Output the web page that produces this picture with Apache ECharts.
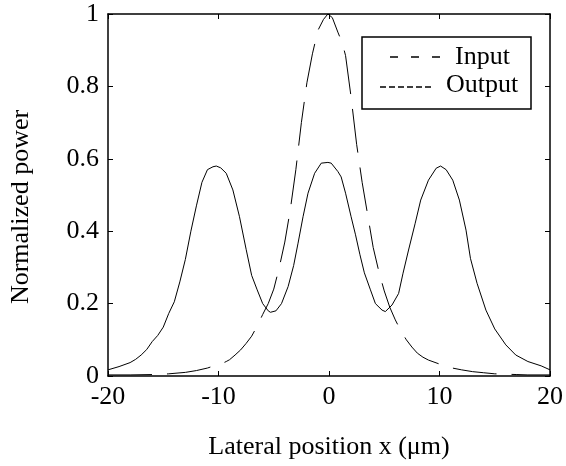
<!DOCTYPE html>
<html>
<head>
<meta charset="utf-8">
<script src="https://cdn.jsdelivr.net/npm/echarts@6/dist/echarts.min.js"></script>
<style>
  html, body { margin: 0; padding: 0; background: #fff; }
  #main { width: 566px; height: 466px; }
</style>
</head>
<body>
<div id="main"></div>
<script>
// input beam (dashed) - lateral position / normalized power
var inputX = [-20, -18, -16, -15, -14.5, -13, -12, -11, -10.6, -10, -9.3, -9, -8.5, -8, -7.5, -7, -6.5, -6, -5.5, -5, -4.5, -4, -3.5, -3, -2.5, -2, -1.5, -1, -0.5, -0.1, 0.3, 0.8, 1.2, 1.5, 2, 2.5, 3, 3.5, 4, 4.5, 5, 5.5, 6, 6.5, 7, 7.5, 8, 8.5, 9, 10, 11, 12, 13, 14, 15, 16, 17, 18, 20];
var inputY = [0.003, 0.003, 0.004, 0.005, 0.006, 0.01, 0.015, 0.022, 0.026, 0.03, 0.04, 0.045, 0.058, 0.072, 0.09, 0.11, 0.138, 0.17, 0.2, 0.24, 0.3, 0.37, 0.46, 0.57, 0.7, 0.81, 0.89, 0.955, 0.985, 1.0, 0.99, 0.95, 0.92, 0.885, 0.77, 0.64, 0.535, 0.445, 0.355, 0.29, 0.235, 0.19, 0.155, 0.125, 0.1, 0.08, 0.063, 0.052, 0.044, 0.033, 0.023, 0.017, 0.012, 0.009, 0.006, 0.005, 0.004, 0.003, 0.003];

// output (solid) - three peaks
var outputX = [-20, -19, -18, -17.5, -17, -16.5, -16, -15.5, -15, -14.5, -14, -13.5, -13, -12.5, -12, -11.5, -11, -10.5, -10.2, -9.8, -9.3, -8.7, -8.1, -7.5, -7, -6.5, -6, -5.5, -5.3, -4.8, -4.3, -3.7, -3.2, -2.8, -2.35, -1.9, -1.3, -0.7, -0.1, 0.2, 0.8, 1.1, 1.5, 2, 2.4, 2.8, 3.2, 3.75, 4.2, 4.8, 5.1, 5.7, 6.3, 6.7, 7.2, 7.8, 8.3, 9, 9.7, 10.1, 10.6, 11.2, 11.8, 12.4, 12.8, 13.4, 14.2, 15, 16, 16.9, 18, 19.2, 20];
var outputY = [0.017, 0.026, 0.037, 0.046, 0.058, 0.073, 0.095, 0.112, 0.135, 0.173, 0.205, 0.26, 0.322, 0.4, 0.47, 0.535, 0.57, 0.578, 0.58, 0.575, 0.56, 0.514, 0.44, 0.35, 0.278, 0.238, 0.2, 0.18, 0.176, 0.18, 0.2, 0.247, 0.305, 0.367, 0.44, 0.505, 0.56, 0.588, 0.59, 0.588, 0.565, 0.55, 0.505, 0.44, 0.39, 0.335, 0.285, 0.238, 0.2, 0.182, 0.178, 0.196, 0.228, 0.284, 0.348, 0.422, 0.486, 0.541, 0.574, 0.58, 0.57, 0.541, 0.486, 0.403, 0.325, 0.256, 0.182, 0.13, 0.086, 0.058, 0.04, 0.028, 0.017];

var xRange = [-20, 20, 10];
var yRange = [0, 1, 0.2];
var legendNames = ['Input', 'Output'];

function pairs(xs, ys) {
    var out = [];
    for (var i = 0; i < xs.length; i++) out.push([xs[i], ys[i]]);
    return out;
}

var font = '"Liberation Serif", "Times New Roman", serif';
var chart = echarts.init(document.getElementById('main'), null, { renderer: 'canvas' });

var boxAxis = {
    axisLine: { show: true, onZero: false, lineStyle: { color: '#000', width: 1.5 } },
    axisTick: { show: true, inside: true, length: 5, lineStyle: { color: '#000', width: 1 } },
    splitLine: { show: false }
};

var option = {
    animation: false,
    backgroundColor: '#fff',
    grid: { left: 104, right: 14, top: 14, bottom: 90, containLabel: false },
    xAxis: [
        Object.assign({
            type: 'value', min: xRange[0], max: xRange[1], interval: xRange[2],
            name: 'Lateral position x (\u03bcm)', nameLocation: 'middle', nameGap: 58,
            nameTextStyle: { fontFamily: font, fontSize: 26, color: '#000' },
            axisLabel: { fontFamily: font, fontSize: 26, color: '#000', margin: 8 }
        }, boxAxis),
        Object.assign({
            type: 'value', position: 'top', min: xRange[0], max: xRange[1], interval: xRange[2],
            axisLabel: { show: false }
        }, boxAxis)
    ],
    yAxis: [
        Object.assign({
            type: 'value', min: yRange[0], max: yRange[1], interval: yRange[2],
            name: 'Normalized power', nameLocation: 'middle', nameGap: 74,
            nameTextStyle: { fontFamily: font, fontSize: 26, color: '#000', padding: [0, 24, 0, 0] },
            axisLabel: { fontFamily: font, fontSize: 26, color: '#000', margin: 9 }
        }, boxAxis),
        Object.assign({
            type: 'value', position: 'right', min: yRange[0], max: yRange[1], interval: yRange[2],
            axisLabel: { show: false }
        }, boxAxis)
    ],
    series: [
        {
            name: legendNames[0], type: 'line', showSymbol: false, silent: true,
            data: pairs(inputX, inputY),
            lineStyle: { color: '#000', width: 1, type: [44, 15] }
        },
        {
            name: legendNames[1], type: 'line', showSymbol: false, silent: true,
            data: pairs(outputX, outputY),
            lineStyle: { color: '#000', width: 1 }
        }
    ],
    // matlab style legend box
    graphic: [
        { type: 'rect', shape: { x: 362, y: 37, width: 169, height: 72 },
          style: { fill: '#fff', stroke: '#000', lineWidth: 1.5 }, z: 100 },
        { type: 'line', shape: { x1: 390, y1: 57, x2: 444, y2: 57 },
          style: { stroke: '#000', lineWidth: 1.5, lineDash: [8, 13] }, z: 101 },
        { type: 'line', shape: { x1: 380, y1: 87, x2: 431, y2: 87 },
          style: { stroke: '#000', lineWidth: 1.5, lineDash: [6, 3] }, z: 101 },
        { type: 'text', x: 455, y: 57, z: 101,
          style: { text: legendNames[0], font: '26px ' + font, fill: '#000', verticalAlign: 'middle' } },
        { type: 'text', x: 446, y: 85, z: 101,
          style: { text: legendNames[1], font: '26px ' + font, fill: '#000', verticalAlign: 'middle' } }
    ]
};

chart.setOption(option);
</script>
</body>
</html>
